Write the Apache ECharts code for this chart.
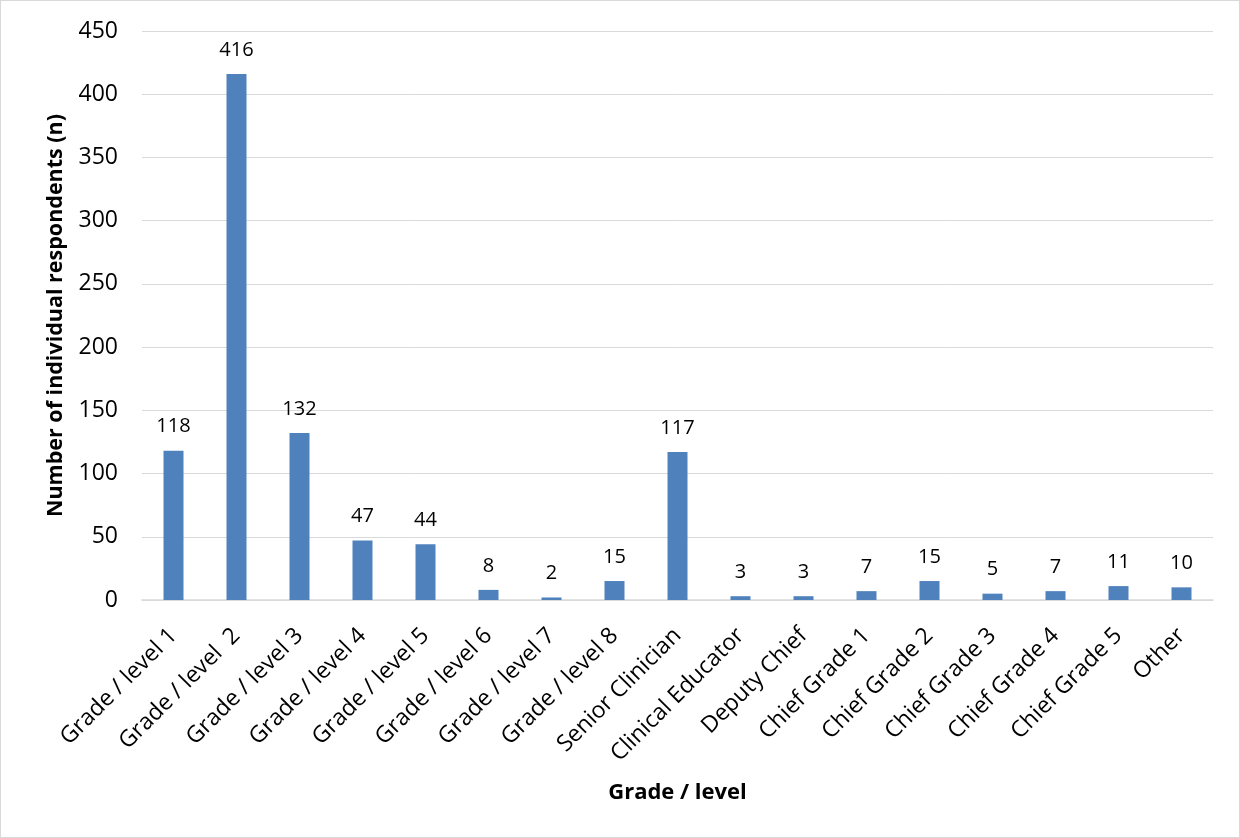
<!DOCTYPE html>
<html>
<head>
<meta charset="utf-8">
<script src="https://cdn.jsdelivr.net/npm/echarts@6/dist/echarts.min.js"></script>
<style>
  html, body { margin: 0; padding: 0; background: #fff; }
  #chart { width: 1238px; height: 836px; border: 1px solid #d9d9d9; }
</style>
</head>
<body>
<div id="chart"></div>
<script>
let categories = ['Grade / level 1', 'Grade / level  2', 'Grade / level 3', 'Grade / level 4', 'Grade / level 5',
  'Grade / level 6', 'Grade / level 7', 'Grade / level 8', 'Senior Clinician', 'Clinical Educator',
  'Deputy Chief', 'Chief Grade 1', 'Chief Grade 2', 'Chief Grade 3', 'Chief Grade 4', 'Chief Grade 5', 'Other'];
let respondents = [118, 416, 132, 47, 44, 8, 2, 15, 117, 3, 3, 7, 15, 5, 7, 11, 10];
let yTicks = [0, 50, 100, 150, 200, 250, 300, 350, 400, 450];

let font = '"Open Sans", "Noto Sans", sans-serif';
let myChart = echarts.init(document.getElementById('chart'));
let option = {
  animation: false,
  textStyle: { fontFamily: font },
  grid: { left: 141, right: 26, top: 30, bottom: 237, containLabel: false },
  xAxis: {
    type: 'category',
    data: categories,
    name: 'Grade / level',
    nameLocation: 'middle',
    nameGap: 182,
    nameTextStyle: { fontSize: 22, fontWeight: 'bold', color: '#000', fontFamily: font },
    axisLine: { lineStyle: { color: '#d9d9d9', width: 1.5 } },
    axisTick: { show: false },
    axisLabel: { rotate: 45, fontSize: 23, color: '#000', margin: 32, interval: 0, fontFamily: font }
  },
  yAxis: {
    type: 'value',
    min: yTicks[0],
    max: yTicks[yTicks.length - 1],
    interval: 50,
    name: 'Number of individual respondents (n)',
    nameLocation: 'middle',
    nameGap: 75,
    nameTextStyle: { fontSize: 21.5, fontWeight: 'bold', color: '#000', fontFamily: font },
    axisLine: { show: false },
    axisTick: { show: false },
    axisLabel: { fontSize: 23, color: '#000', margin: 24, fontFamily: font },
    splitLine: { lineStyle: { color: '#d9d9d9', width: 1 } }
  },
  series: [{
    type: 'bar',
    data: respondents,
    barWidth: 20,
    itemStyle: { color: '#4f81bd' },
    label: { show: true, position: 'top', distance: 14, fontSize: 20, color: '#000', fontFamily: font }
  }]
};
myChart.setOption(option);

window.addEventListener('resize', function () {
  myChart.resize();
});
</script>
</body>
</html>
